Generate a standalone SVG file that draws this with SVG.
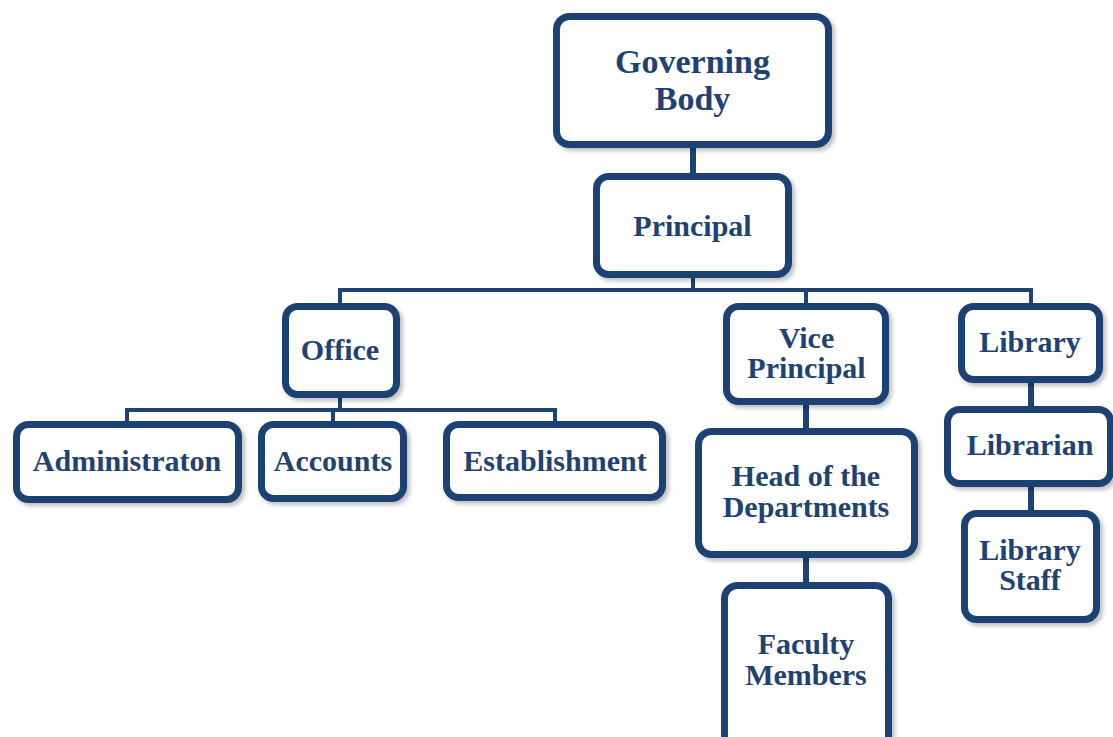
<svg xmlns="http://www.w3.org/2000/svg" width="1113" height="737" viewBox="0 0 1113 737">
<defs>
<style>
.box{fill:#ffffff;stroke:#1e4273;stroke-width:7;filter:url(#sh);}
.t{font-family:"Liberation Serif","Times New Roman",serif;font-weight:bold;font-size:30px;fill:#1e4273;text-anchor:middle;}
.big{font-size:34px;}
.c{stroke:#1e4273;fill:none;}
.thin{stroke-width:4;}
.thick{stroke-width:6;}
</style>
<filter id="sh" x="-10%" y="-10%" width="130%" height="130%">
<feDropShadow dx="3" dy="3" stdDeviation="2" flood-color="#000000" flood-opacity="0.25"/>
</filter>
</defs>
<rect width="1113" height="737" fill="#ffffff"/>
<g id="connectors">
<line class="c thick" x1="693" y1="148" x2="693" y2="174"/>
<line class="c thin" x1="693" y1="277" x2="693" y2="290"/>
<polyline class="c thin" points="340,305 340,290 1031,290 1031,305"/>
<line class="c thin" x1="806" y1="290" x2="806" y2="305"/>
<line class="c thin" x1="340" y1="397" x2="340" y2="410"/>
<polyline class="c thin" points="127,423 127,410 555,410 555,423"/>
<line class="c thin" x1="333" y1="410" x2="333" y2="423"/>
<line class="c thick" x1="806" y1="404" x2="806" y2="430"/>
<line class="c thick" x1="806" y1="557" x2="806" y2="584"/>
<line class="c thick" x1="1031" y1="382" x2="1031" y2="408"/>
<line class="c thick" x1="1031" y1="486" x2="1031" y2="512"/>
</g>
<g id="governing-body">
<rect class="box" x="556.5" y="16.5" width="272" height="128" rx="13"/>
<text class="t big" x="692.5" y="73">Governing</text>
<text class="t big" x="692.5" y="110">Body</text>
</g>
<g id="principal">
<rect class="box" x="596.5" y="176.5" width="192" height="98" rx="12"/>
<text class="t" x="692.5" y="236">Principal</text>
</g>
<g id="office">
<rect class="box" x="285.5" y="306.5" width="111" height="88" rx="12"/>
<text class="t" x="340" y="360">Office</text>
</g>
<g id="administration">
<rect class="box" x="16.5" y="424.5" width="222" height="75" rx="12"/>
<text class="t" x="127" y="471">Administraton</text>
</g>
<g id="accounts">
<rect class="box" x="261.5" y="424.5" width="142" height="74" rx="12"/>
<text class="t" x="333" y="471">Accounts</text>
</g>
<g id="establishment">
<rect class="box" x="446.5" y="424.5" width="216" height="73" rx="12"/>
<text class="t" x="555" y="471">Establishment</text>
</g>
<g id="vice-principal">
<rect class="box" x="726.5" y="306.5" width="159" height="95" rx="12"/>
<text class="t" x="806.5" y="348">Vice</text>
<text class="t" x="806.5" y="378">Principal</text>
</g>
<g id="library">
<rect class="box" x="961.5" y="306.5" width="138" height="73" rx="12"/>
<text class="t" x="1030" y="352">Library</text>
</g>
<g id="head-of-departments">
<rect class="box" x="698.5" y="431.5" width="216" height="123" rx="13"/>
<text class="t" x="806" y="486">Head of the</text>
<text class="t" x="806" y="517">Departments</text>
</g>
<g id="faculty-members">
<rect class="box" x="724.5" y="585.5" width="164" height="165" rx="13"/>
<text class="t" x="806" y="654">Faculty</text>
<text class="t" x="806" y="685">Members</text>
</g>
<g id="librarian">
<rect class="box" x="947.5" y="409.5" width="163" height="74" rx="12"/>
<text class="t" x="1030" y="455">Librarian</text>
</g>
<g id="library-staff">
<rect class="box" x="964.5" y="513.5" width="132" height="106" rx="12"/>
<text class="t" x="1030" y="560">Library</text>
<text class="t" x="1030" y="590">Staff</text>
</g>
</svg>
